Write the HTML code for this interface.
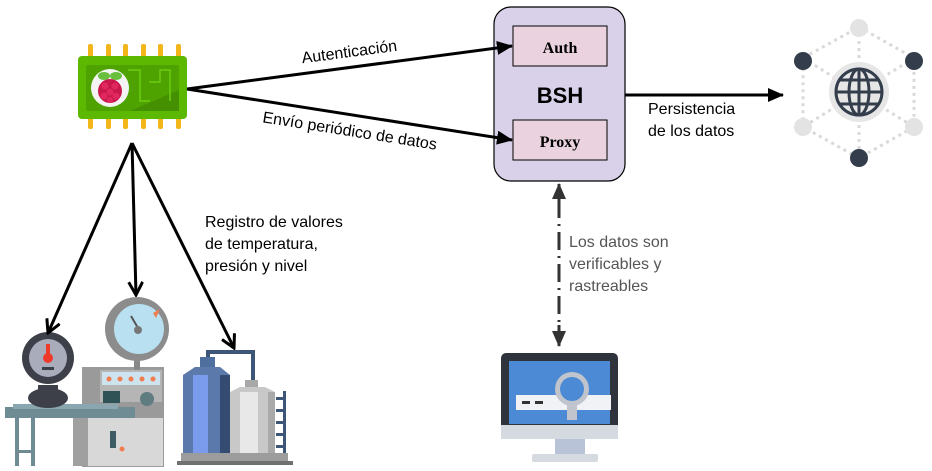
<!DOCTYPE html>
<html><head><meta charset="utf-8"><style>
html,body{margin:0;padding:0;background:#fff;}
svg{display:block;}
text{font-family:"Liberation Sans",sans-serif;}
</style></head><body>
<svg width="932" height="471" viewBox="0 0 932 471" xmlns="http://www.w3.org/2000/svg">
<defs>
<marker id="ahb" markerWidth="16" markerHeight="14" refX="15" refY="7" orient="auto" markerUnits="userSpaceOnUse" viewBox="0 0 16 14"><path d="M0,0 L16,7 L0,14 Z" fill="#000"/></marker>
<marker id="ahg" markerWidth="16" markerHeight="14" refX="15" refY="7" orient="auto" markerUnits="userSpaceOnUse" viewBox="0 0 16 14"><path d="M0,0 L16,7 L0,14 Z" fill="#333"/></marker>
<marker id="open" markerWidth="16" markerHeight="16" refX="14" refY="8" orient="auto" markerUnits="userSpaceOnUse" viewBox="0 0 16 16"><path d="M1,1 L14,8 L1,15" fill="none" stroke="#000" stroke-width="3"/></marker>
</defs>

<!-- Raspberry chip -->
<g>
  <g fill="#f2b61b">
    <rect x="88" y="44" width="5" height="14" rx="2"/><rect x="106" y="44" width="5" height="14" rx="2"/><rect x="123" y="44" width="5" height="14" rx="2"/><rect x="141" y="44" width="5" height="14" rx="2"/><rect x="158" y="44" width="5" height="14" rx="2"/><rect x="176" y="44" width="5" height="14" rx="2"/>
    <rect x="88" y="115" width="5" height="14" rx="2"/><rect x="106" y="115" width="5" height="14" rx="2"/><rect x="123" y="115" width="5" height="14" rx="2"/><rect x="141" y="115" width="5" height="14" rx="2"/><rect x="158" y="115" width="5" height="14" rx="2"/><rect x="176" y="115" width="5" height="14" rx="2"/>
  </g>
  <rect x="78" y="56" width="109" height="63" rx="4" fill="#5cb800"/>
  <rect x="86" y="65" width="93" height="46" rx="2" fill="#4ea300"/>
  <path d="M130,111 L179,90 L179,111 Z" fill="#449000"/>
  <path d="M128,70 L140,70 L140,101 L150,101 M149,82 L160,82 L160,70 L170,70 L170,101" fill="none" stroke="#6ccc10" stroke-width="1.5"/>
  <circle cx="110" cy="88" r="19" fill="#f4f4f4"/>
  <ellipse cx="104" cy="76" rx="6" ry="4" fill="#6abf3e"/><ellipse cx="116" cy="76" rx="6" ry="4" fill="#6abf3e"/>
  <circle cx="110" cy="91" r="12" fill="#c8174b"/>
  <g fill="#e0285e"><circle cx="105" cy="86" r="3.5"/><circle cx="115" cy="86" r="3.5"/><circle cx="110" cy="92" r="3.5"/><circle cx="104" cy="96" r="3.5"/><circle cx="116" cy="96" r="3.5"/><circle cx="110" cy="100" r="3"/></g>
</g>

<!-- BSH -->
<rect x="494" y="7" width="131" height="174" rx="17" fill="#d9d1e9" stroke="#000" stroke-width="1.2"/>
<rect x="513" y="26" width="94" height="40" fill="#ead3de" stroke="#000" stroke-width="1"/>
<rect x="513" y="120" width="94" height="40" fill="#ead3de" stroke="#000" stroke-width="1"/>
<text x="560" y="53" font-size="16" font-weight="bold" text-anchor="middle" style="font-family:'Liberation Serif',serif">Auth</text>
<text x="560" y="147" font-size="16" font-weight="bold" text-anchor="middle" style="font-family:'Liberation Serif',serif">Proxy</text>
<text x="560" y="103" font-size="22" font-weight="bold" text-anchor="middle">BSH</text>

<!-- arrows from chip to BSH -->
<line x1="187" y1="89" x2="512" y2="46" stroke="#000" stroke-width="3" marker-end="url(#ahb)"/>
<line x1="187" y1="89" x2="512" y2="140" stroke="#000" stroke-width="3" marker-end="url(#ahb)"/>
<text x="350" y="57" font-size="16" text-anchor="middle" transform="rotate(-7.5 350 57)">Autenticación</text>
<text x="349" y="136" font-size="16" text-anchor="middle" transform="rotate(9 349 136)">Envío periódico de datos</text>

<!-- persistence -->
<line x1="625" y1="95" x2="783" y2="95" stroke="#000" stroke-width="3" marker-end="url(#ahb)"/>
<text x="648" y="114" font-size="16">Persistencia</text>
<text x="648" y="136" font-size="16">de los datos</text>

<!-- network icon -->
<g>
  <g stroke="#d9d9d9" stroke-width="3" stroke-dasharray="3,4" fill="none">
    <path d="M859,27 L914,58 L914,127 L859,158 L803,127 L803,58 Z"/>
    <path d="M859,27 L859,158 M803,58 L914,127 M914,58 L803,127"/>
  </g>
  <circle cx="859" cy="92" r="30" fill="#e6e6e6"/>
  <circle cx="859" cy="28" r="9" fill="#e3e3e3"/>
  <circle cx="803" cy="127" r="9" fill="#e3e3e3"/>
  <circle cx="914" cy="127" r="9" fill="#e3e3e3"/>
  <circle cx="803" cy="61" r="9" fill="#333d4b"/>
  <circle cx="914" cy="61" r="9" fill="#333d4b"/>
  <circle cx="859" cy="158" r="9" fill="#333d4b"/>
  <g stroke="#333d4b" stroke-width="3" fill="none">
    <circle cx="859" cy="92" r="23"/>
    <ellipse cx="859" cy="92" rx="10" ry="23"/>
    <line x1="859" y1="69" x2="859" y2="115"/>
    <line x1="836" y1="92" x2="882" y2="92"/>
    <line x1="840" y1="80" x2="878" y2="80"/>
    <line x1="840" y1="104" x2="878" y2="104"/>
  </g>
</g>

<!-- dash-dot vertical -->
<line x1="559" y1="200" x2="559" y2="330" stroke="#333" stroke-width="3" stroke-dasharray="18,6,2,6"/>
<line x1="559" y1="205" x2="559" y2="184" stroke="#333" stroke-width="3" marker-end="url(#ahg)"/>
<line x1="559" y1="325" x2="559" y2="346" stroke="#333" stroke-width="3" marker-end="url(#ahg)"/>
<text x="569" y="247" font-size="16" fill="#555">Los datos son</text>
<text x="569" y="269" font-size="16" fill="#555">verificables y</text>
<text x="569" y="291" font-size="16" fill="#555">rastreables</text>

<!-- monitor -->
<g>
  <rect x="501" y="353" width="117" height="77" rx="5" fill="#2f333c"/>
  <rect x="509" y="361" width="101" height="63" fill="#4c8ad6"/>
  <rect x="501" y="425" width="117" height="14" fill="#d5d9e0"/>
  <rect x="555" y="439" width="30" height="16" fill="#b8c3d8"/>
  <rect x="532" y="454" width="66" height="8" rx="2" fill="#d5d9e0"/>
  <rect x="516" y="395" width="95" height="15" fill="#f0f2f6"/>
  <rect x="522" y="401" width="8" height="3" fill="#333"/><rect x="535" y="401" width="8" height="3" fill="#333"/>
  <rect x="567" y="402" width="10" height="18" fill="#c0c4cc"/>
  <circle cx="572" cy="389" r="17" fill="#c0c4cc"/>
  <circle cx="572" cy="389" r="12" fill="#4c8ad6"/>
</g>

<text x="205" y="227" font-size="16">Registro de valores</text>
<text x="205" y="249" font-size="16">de temperatura,</text>
<text x="205" y="271" font-size="16">presión y nivel</text>

<!-- machine -->
<g>
  <rect x="15" y="418" width="4" height="48" fill="#6f8c95"/><rect x="31" y="418" width="4" height="48" fill="#6f8c95"/>
  <rect x="15" y="450" width="20" height="3" fill="#6f8c95"/>
  <rect x="82" y="367" width="82" height="100" fill="#9a9a9a"/>
  <rect x="100" y="370" width="62" height="32" fill="#b5b5b5"/>
  <rect x="102" y="372" width="58" height="13" fill="#cde3ee"/>
  <g fill="#f07c50"><circle cx="109" cy="379" r="2.5"/><circle cx="120" cy="379" r="2.5"/><circle cx="131" cy="379" r="2.5"/><circle cx="142" cy="379" r="2.5"/><circle cx="153" cy="379" r="2.5"/></g>
  <rect x="103" y="391" width="17" height="12" fill="#2f5257"/>
  <circle cx="147" cy="399" r="7" fill="#5f7c80"/>
  <rect x="88" y="418" width="75" height="48" fill="#d8d8d8"/>
  <rect x="73" y="418" width="15" height="48" fill="#a0a0a0"/>
  <rect x="110" y="431" width="6" height="17" fill="#3d5c63"/>
  <circle cx="122" cy="449" r="2.5" fill="#f07c50"/>
  <rect x="5" y="407" width="130" height="11" fill="#6f8c95"/>
  <rect x="13" y="404" width="105" height="5" fill="#8aa6ae"/>
  <rect x="134" y="355" width="6" height="15" fill="#888"/>
  <circle cx="137" cy="329" r="32" fill="#8c8c8c"/>
  <circle cx="139" cy="329" r="25" fill="#b8e0f0"/>
  <path d="M153,313 L160,309 L156,318 Z" fill="#f07c50"/>
  <line x1="131" y1="316" x2="138" y2="328" stroke="#555" stroke-width="2"/>
  <circle cx="138" cy="330" r="4" fill="#777"/>
  <ellipse cx="48" cy="398" rx="20" ry="10" fill="#3d4049"/>
  <rect x="38" y="385" width="20" height="10" fill="#3d4049"/>
  <circle cx="48" cy="358" r="26" fill="#3d4049"/>
  <circle cx="48" cy="358" r="19" fill="#a9adbb"/>
  <rect x="46" y="344" width="4" height="12" fill="#ee3a2a"/>
  <circle cx="48" cy="358" r="5" fill="#ee3a2a"/>
  <rect x="42" y="367" width="12" height="3" fill="#3d4049"/>
</g>

<!-- tanks -->
<g>
  <path d="M208,360 L208,352 L253,352 L253,383" fill="none" stroke="#3d5678" stroke-width="4"/>
  <rect x="200" y="357" width="15" height="12" fill="#4f6f9e"/>
  <path d="M183,375 L195,367 L220,367 L230,375 L230,455 L183,455 Z" fill="#5b79ab"/>
  <rect x="193" y="375" width="15" height="80" fill="#7b9cec"/>
  <rect x="220" y="375" width="10" height="80" fill="#344c72"/>
  <rect x="245" y="380" width="13" height="10" fill="#a8a8a8"/>
  <path d="M230,392 L240,387 L265,387 L275,392 L275,455 L230,455 Z" fill="#c8c8c8"/>
  <rect x="240" y="392" width="18" height="63" fill="#e8e8e8"/>
  <rect x="268" y="392" width="7" height="63" fill="#a9a9a9"/>
  <g fill="#3d5678"><rect x="283" y="391" width="3" height="65"/><rect x="276" y="397" width="8" height="3"/><rect x="276" y="409" width="8" height="3"/><rect x="276" y="421" width="8" height="3"/><rect x="276" y="433" width="8" height="3"/><rect x="276" y="445" width="8" height="3"/></g>
  <rect x="181" y="453" width="107" height="9" fill="#9c9c9c"/>
  <rect x="177" y="461" width="116" height="4" fill="#707070"/>
</g>

<!-- arrows down -->
<line x1="132" y1="143" x2="48" y2="333" stroke="#000" stroke-width="3" marker-end="url(#open)"/>
<line x1="132" y1="143" x2="136" y2="295" stroke="#000" stroke-width="3" marker-end="url(#open)"/>
<line x1="132" y1="143" x2="234" y2="348" stroke="#000" stroke-width="3" marker-end="url(#open)"/>
</svg>
</body></html>
